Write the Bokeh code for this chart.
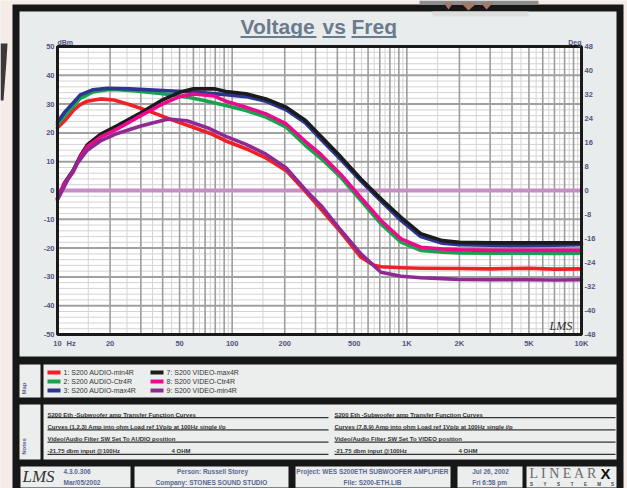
import math
from bokeh.plotting import figure
from bokeh.models import Range1d, LogScale
from bokeh.core.properties import value
from bokeh.embed import file_html
from bokeh.resources import INLINE

# ---------------- data ----------------
F_RED = [10, 11, 12.4, 13.5, 14.8, 17.6, 21, 26, 34, 44, 58, 75, 92, 120, 156, 204, 263, 322, 420, 546, 650, 711, 926, 1200, 2000, 3000, 5000, 7000, 10000]
DB_RED = [21.8, 24.2, 28, 29.8, 31, 31.8, 31.4, 29.8, 27.4, 24.8, 22.2, 19.8, 17.2, 14.5, 11.3, 6.9, -0.4, -6.4, -14.5, -23.2, -26, -26.5, -26.8, -27, -27.1, -27.2, -27.0, -27.3, -27.2]

F_GREEN = [10, 11, 12.4, 13.5, 16, 19.3, 22, 26, 30, 40, 50, 60, 70, 92, 120, 156, 204, 263, 322, 420, 546, 711, 926, 1200, 1600, 2000, 3000, 5000, 7000, 10000]
DB_GREEN = [22.8, 26, 29.5, 32, 34.2, 35, 35, 34.7, 34.4, 33.6, 32.8, 32, 31.2, 29.5, 27.8, 25.5, 22, 15.6, 11.2, 4.5, -3.5, -11.6, -17.9, -20.8, -21.4, -21.7, -21.8, -21.8, -21.9, -21.8]

F_BLUE = [10, 11, 12.4, 13.5, 16, 19.3, 26, 40, 63, 92, 120, 156, 204, 263, 322, 420, 546, 711, 926, 1200, 1600, 2000, 3000, 5000, 7000, 10000]
DB_BLUE = [23.7, 27.2, 30.7, 33.2, 35, 35.5, 35.3, 34.7, 34.1, 33.3, 32.6, 31, 28, 23.4, 17.8, 10.7, 3.3, -3.6, -10.4, -16, -18.3, -18.8, -19, -19.1, -19, -18.8]

F_BLACK = [10, 10.5, 11, 12.3, 13.5, 14.8, 17.6, 22, 30, 40, 50, 60, 79, 92, 120, 156, 204, 263, 322, 420, 546, 711, 926, 1200, 1600, 2000, 3000, 5000, 10000]
DB_BLACK = [-2.8, 0, 2.8, 7, 12, 15.8, 19.5, 22.5, 27, 31.5, 34.1, 35.3, 35.3, 34.4, 33.6, 31.8, 28.9, 24.3, 18.8, 11.6, 4, -2.9, -9.3, -15, -17.4, -18, -18.2, -18.2, -18.2]

F_PINK = [10, 10.9, 12.3, 13.5, 14.8, 17.6, 22, 30, 40, 50, 60, 79, 92, 120, 156, 204, 263, 322, 420, 546, 711, 926, 1200, 1600, 2000, 3000, 5000, 10000]
DB_PINK = [-2.8, 2.3, 6.4, 11.6, 15.2, 18.5, 21.4, 26, 30.1, 32.6, 33.5, 32.8, 31, 28.9, 26.6, 23.1, 17, 12.5, 5.5, -2.5, -10.4, -16.8, -19.7, -20.3, -20.6, -20.8, -20.8, -20.8]

F_PURPLE = [10, 11.4, 13, 14.8, 17.6, 22, 30, 43, 55, 72, 92, 120, 156, 204, 263, 322, 420, 546, 711, 926, 1200, 1600, 2000, 3000, 5000, 7000, 10000]
DB_PURPLE = [-3.2, 3.5, 9.5, 14, 17.2, 19.8, 22.4, 24.8, 24.2, 21.8, 18.8, 16, 12.6, 7.8, 0.2, -5.2, -13.9, -22, -28.4, -29.8, -30.3, -30.6, -30.9, -31, -31, -31.1, -31]

SERIES_NAMES = ["1: S200 AUDIO-min4R", "2: S200 AUDIO-Ctr4R", "3: S200 AUDIO-max4R",
                "7: S200 VIDEO-max4R", "8: S200 VIDEO-Ctr4R", "9: S200 VIDEO-min4R"]
SERIES_COLORS = ["#ee2128", "#17a34d", "#2c3591", "#1b1b1b", "#ec0a8c", "#8f2a93"]

X_MIN, X_MAX = 10, 10000
Y_MIN, Y_MAX = -50, 50
DEG_MIN, DEG_MAX = -48, 48
X_TICKS = [10, 20, 50, 100, 200, 500, 1000, 2000, 5000, 10000]
X_TICK_LABELS = ["10", "20", "50", "100", "200", "500", "1K", "2K", "5K", "10K"]
Y_TICKS = [50, 40, 30, 20, 10, 0, -10, -20, -30, -40, -50]
DEG_TICKS = [48, 40, 32, 24, 16, 8, 0, -8, -16, -24, -32, -40, -48]

NOTES_LEFT = ["S200 Eth -Subwoofer amp Transfer Function Curves",
              "Curves (1,2,3)  Amp into ohm Load ref  1Vp/p at 100Hz  single i/p",
              "Video/Audio Filter  SW    Set To  AUDIO  position",
              "-21.75 dbm  input @100Hz"]
NOTES_RIGHT = ["S200 Eth -Subwoofer amp Transfer Function Curves",
               "Curves (7,8,9)    Amp into ohm Load ref  1Vp/p at 100Hz  single i/p",
               "Video/Audio Filter  SW    Set To  VIDEO  position",
               "-21.75 dbm  input @100Hz"]

# ---------------- page geometry (pixels) ----------------
W, H = 627, 488
PL, PR, PT, PB = 57, 581, 46, 334          # plot area box
DEC_PX = (PR - PL) / math.log10(X_MAX / X_MIN)
DB_PX = (PB - PT) / (Y_MAX - Y_MIN)
DEG_PX = (PB - PT) / (DEG_MAX - DEG_MIN)

PANEL = "#e9ecec"
BOXC = "#eceeee"
BLACK = "#171717"
PINKBG = "#f5ece8"
AXC = "#52527e"
FOOT = "#5a6893"
FONT = value("Liberation Sans")
SERIF = value("Liberation Serif")

p = figure(width=W, height=H, x_range=Range1d(0, W), y_range=Range1d(H, 0),
           x_axis_location=None, y_axis_location=None, min_border=0,
           output_backend="svg", toolbar_location=None, outline_line_color=None,
           background_fill_color=PANEL, border_fill_color=PANEL)
p.grid.visible = False

p.extra_x_ranges = {"f": Range1d(X_MIN * 10 ** (-PL / DEC_PX), X_MAX * 10 ** ((W - PR) / DEC_PX))}
p.extra_x_scales = {"f": LogScale()}
p.extra_y_ranges = {"db": Range1d(Y_MIN - (H - PB) / DB_PX, Y_MAX + PT / DB_PX),
                    "deg": Range1d(DEG_MIN - (H - PB) / DEG_PX, DEG_MAX + PT / DEG_PX)}
CH = dict(x_range_name="f", y_range_name="db")

def box(x0, y0, x1, y1, color):
    p.quad(left=[x0], right=[x1], top=[y0], bottom=[y1], fill_color=color, line_color=None)

def txt(x, y, s, size="7px", color="#333333", style="normal", align="left",
        font=FONT, angle=0.0, baseline="middle"):
    p.text(x=[x], y=[y], text=[s], text_font=font, text_font_size=size, text_color=color,
           text_font_style=style, text_align=align, text_baseline=baseline, angle=angle)

# ---------------- frame decorations ----------------
box(0, 0, W, H, PINKBG)
p.patch([0, 7, 6, 3, 0], [43, 43, 60, 100, 100], fill_color="#3b3838", line_color=None)
box(12, 4, 623, H, BLACK)
box(419, 0, 538, 4, "#8e8e8e")
p.patch([443, 453, 448], [2, 2, 9], fill_color="#a3796a", line_color=None)
p.patch([460, 477, 468], [2, 2, 10], fill_color="#a3796a", line_color=None)
p.patch([480, 493, 486], [2, 2, 9], fill_color="#a3796a", line_color=None)
box(19, 11, 616, 356, PANEL)
box(432, 11, 528, 16, "#dcdede")

# plot area
p.quad(left=[X_MIN], right=[X_MAX], bottom=[Y_MIN], top=[Y_MAX], fill_color="white", line_color=None, **CH)

xg_minor = [(m + 0.5) * 10 ** d for d in (1, 2, 3) for m in range(1, 10)]
xg_major = [m * 10 ** d for d in (1, 2, 3) for m in range(1, 10)]
yg_minor = [v for v in range(Y_MIN, Y_MAX + 1, 2) if v % 10]
yg_major = list(range(Y_MIN, Y_MAX + 1, 10))
p.segment(x0=xg_minor, x1=xg_minor, y0=[Y_MIN] * len(xg_minor), y1=[Y_MAX] * len(xg_minor),
          line_color="#d5d5d5", line_width=1, **CH)
p.segment(x0=[X_MIN] * len(yg_minor), x1=[X_MAX] * len(yg_minor), y0=yg_minor, y1=yg_minor,
          line_color="#d3d3d3", line_width=1, **CH)
p.segment(x0=xg_major, x1=xg_major, y0=[Y_MIN] * len(xg_major), y1=[Y_MAX] * len(xg_major),
          line_color="#9d9d9d", line_width=1.6, **CH)
p.segment(x0=[X_MIN] * len(yg_major), x1=[X_MAX] * len(yg_major), y0=yg_major, y1=yg_major,
          line_color="#a0a0a0", line_width=2, **CH)

p.segment(x0=[X_MIN], x1=[X_MAX], y0=[0], y1=[0], line_color="#c48fc5", line_width=4, **CH)

series = [(F_RED, DB_RED), (F_GREEN, DB_GREEN), (F_BLUE, DB_BLUE),
          (F_BLACK, DB_BLACK), (F_PINK, DB_PINK), (F_PURPLE, DB_PURPLE)]
for (f, v), c in zip(series, SERIES_COLORS):
    p.line(f, v, line_color=c, line_width=3.6, line_join="round", line_cap="round", **CH)

p.quad(left=[X_MIN], right=[X_MAX], bottom=[Y_MIN], top=[Y_MAX], fill_color=None,
       line_color="#1a1a1a", line_width=3, **CH)

# tick labels
p.text(x=X_TICKS, y=[343] * len(X_TICKS), text=X_TICK_LABELS, x_range_name="f",
       text_font=FONT, text_font_size="7.5px", text_font_style="bold", text_color=AXC,
       text_align="center", text_baseline="middle")
p.text(x=[PL - 3] * len(Y_TICKS), y=Y_TICKS, text=[str(v) for v in Y_TICKS], y_range_name="db",
       text_font=FONT, text_font_size="7.5px", text_font_style="bold", text_color=AXC,
       text_align="right", text_baseline="middle")
p.text(x=[PR + 3] * len(DEG_TICKS), y=DEG_TICKS, text=[str(v) for v in DEG_TICKS], y_range_name="deg",
       text_font=FONT, text_font_size="7.5px", text_font_style="bold", text_color=AXC,
       text_align="left", text_baseline="middle")
txt(66, 343, "Hz", size="7.5px", color=AXC, style="bold")
txt(57, 42, "dBm", size="7px", color=AXC, style="bold")
txt(581, 42, "Deg", size="7px", color=AXC, style="bold", align="right")
txt(549, 325, "LMS", size="12px", color="#2a2a2a", style="italic", font=SERIF)

# title
TITLE_WORDS = [("Voltage", 240, 316), ("vs", 322, 345), ("Freq", 351, 396)]
for w, a, b in TITLE_WORDS:
    txt(a, 26, w, size="21px", color="#6a7b8d", style="bold")
    box(a, 35.5, b, 37.5, "#6a7b8d")

# legend panel
box(19, 364, 40, 397, BOXC)
box(43, 364, 616, 397, BOXC)
txt(23, 388, "Map", size="6px", color=FOOT, style="bold", align="center", angle=math.pi / 2)
for i, (name, col) in enumerate(zip(SERIES_NAMES, SERIES_COLORS)):
    lx = 47 if i < 3 else 150
    ry = 372 + 9 * (i % 3)
    box(lx, ry - 2, lx + 13, ry + 2, col)
    txt(lx + 16, ry, name, size="7px", color="#333333")

# notes panel
box(19, 404, 40, 459, BOXC)
box(43, 404, 616, 459, BOXC)
txt(23, 446, "Notes", size="6px", color=FOOT, style="bold", align="center", angle=math.pi / 2)
for i in range(4):
    ry = 414 + 12.2 * i
    txt(47, ry, NOTES_LEFT[i], size="6px", color="#333333", style="bold")
    txt(334, ry, NOTES_RIGHT[i], size="6px", color="#333333", style="bold")
    box(47, ry + 2.6, 328, ry + 3.8, "#333333")
    box(334, ry + 2.6, 615, ry + 3.8, "#333333")
txt(171, 414 + 12.2 * 3, "4 OHM", size="6px", color="#333333", style="bold")
txt(458, 414 + 12.2 * 3, "4 OHM", size="6px", color="#333333", style="bold")

# footer
for a, b in [(20, 130), (134, 288), (295, 450), (457, 522), (526, 616)]:
    box(a, 466, b, 487, BOXC)
txt(22, 476, "LMS", size="17px", color="#333333", style="italic", font=SERIF)
txt(63, 471, "4.3.0.306", size="6.5px", color=FOOT, style="bold")
txt(63, 482, "Mar/05/2002", size="6.5px", color=FOOT, style="bold")
txt(212, 471, "Person: Russell Storey", size="6.5px", color=FOOT, style="bold", align="center")
txt(211, 482, "Company: STONES SOUND STUDIO", size="6.5px", color=FOOT, style="bold", align="center")
txt(372, 471, "Project: WES S200ETH SUBWOOFER AMPLIFIER", size="6.5px", color=FOOT, style="bold", align="center")
txt(372, 482, "File: S200-ETH.LIB", size="6.5px", color=FOOT, style="bold", align="center")
txt(490, 471, "Jul 26, 2002", size="6.5px", color=FOOT, style="bold", align="center")
txt(490, 482, "Fri  6:58 pm", size="6.5px", color=FOOT, style="bold", align="center")
txt(529, 473, "L I N E A R", size="14px", color="#6a6a6a", font=SERIF)
txt(600, 473, "X", size="15px", color="#111111", style="bold")
for k, ch in enumerate("SYSTEMS"):
    txt(531 + 13.5 * k, 483.5, ch, size="4.5px", color="#444444", style="bold", align="center")

open("out.html", "w").write(file_html(p, INLINE))
